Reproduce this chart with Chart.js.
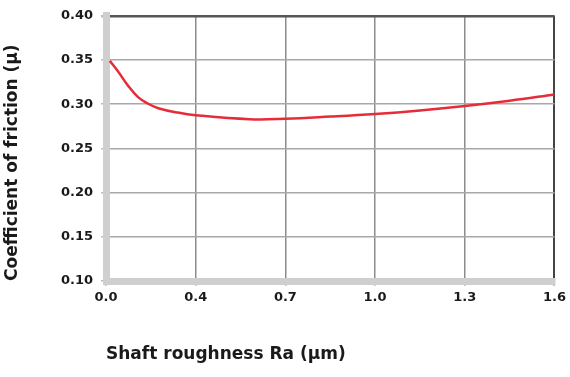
<!DOCTYPE html>
<html>
<head>
<meta charset="utf-8">
<script src="https://cdn.jsdelivr.net/npm/chart.js@4"></script>
<style>
  html, body { margin: 0; padding: 0; background: #fff; }
  #wrap { width: 570px; height: 377px; }
</style>
</head>
<body>
<div id="wrap"><canvas id="frictionChart"></canvas></div>
<script>
// tick labels (equally spaced on the axis even though the values are not)
const xTickLabels = ['0.0', '0.4', '0.7', '1.0', '1.3', '1.6'];
const xTickValues = [0.0, 0.4, 0.7, 1.0, 1.3, 1.6];
const yTickLabels = ['0.10', '0.15', '0.20', '0.25', '0.30', '0.35', '0.40'];

// curve: shaft roughness Ra (µm) vs coefficient of friction
const roughness = [0.017, 0.054, 0.098, 0.143, 0.188, 0.233, 0.32, 0.4, 0.58, 0.7, 0.85, 1.0, 1.15, 1.3, 1.45, 1.6];
const friction  = [0.349, 0.337, 0.321, 0.308, 0.3005, 0.2955, 0.2905, 0.2875, 0.283, 0.2835, 0.286, 0.289, 0.293, 0.298, 0.304, 0.311];

// place a roughness value on the axis (piecewise between the labelled ticks)
function toAxis(v) {
  for (let i = 0; i < xTickValues.length - 1; i++) {
    const a = xTickValues[i], b = xTickValues[i + 1];
    if (v <= b || i === xTickValues.length - 2) return i + (v - a) / (b - a);
  }
  return 0;
}

const points = roughness.map((r, i) => ({ x: toAxis(r), y: friction[i] }));

const tickFont = { family: 'DejaVu Sans', size: 13, weight: 'bold' };
const titleFont = { family: 'DejaVu Sans', size: 17, weight: 'bold' };

const ctx = document.getElementById('frictionChart').getContext('2d');
new Chart(ctx, {
  type: 'line',
  data: {
    datasets: [{
      label: 'Coefficient of friction',
      data: points,
      borderColor: '#e52d3a',
      borderWidth: 2.5,
      pointRadius: 0,
      fill: false,
      tension: 0.4
    }]
  },
  options: {
    responsive: true,
    maintainAspectRatio: false,
    animation: false,
    layout: { padding: { top: 10, right: 15, left: 0, bottom: 0 } },
    plugins: {
      legend: { display: false },
      tooltip: { enabled: false }
    },
    scales: {
      x: {
        type: 'linear',
        min: 0,
        max: xTickLabels.length - 1,
        afterFit: s => { s.height = 96; },
        afterBuildTicks: s => { s.ticks = xTickLabels.map((_, i) => ({ value: i })); },
        ticks: {
          callback: v => xTickLabels[v],
          font: tickFont,
          color: '#1a1a1a',
          padding: 4,
          maxRotation: 0
        },
        grid: {
          color: c => c.index === xTickLabels.length - 1 ? '#444' : '#8c8c8c',
          lineWidth: c => c.index === xTickLabels.length - 1 ? 2 : 1.5,
          tickLength: 5,
          tickColor: '#bbb'
        },
        border: { color: '#cfcfcf', width: 7 },
        title: {
          display: true,
          text: 'Shaft roughness Ra (µm)',
          align: 'start',
          font: titleFont,
          color: '#1a1a1a',
          padding: { top: 4, bottom: 12 }
        }
      },
      y: {
        min: 0.10,
        max: 0.40,
        afterFit: s => { s.width = 106; },
        afterBuildTicks: s => { s.ticks = yTickLabels.map(t => ({ value: parseFloat(t) })); },
        ticks: {
          callback: (v, i) => yTickLabels[i],
          font: tickFont,
          color: '#1a1a1a',
          padding: 8
        },
        grid: {
          color: c => c.index === yTickLabels.length - 1 ? '#555' : '#a8a8a8',
          lineWidth: c => c.index === yTickLabels.length - 1 ? 2.5 : 1.5,
          tickLength: 5,
          tickColor: '#bbb'
        },
        border: { color: '#cfcfcf', width: 7 },
        title: {
          display: true,
          text: 'Coefficient of friction (µ)',
          align: 'start',
          font: titleFont,
          color: '#1a1a1a',
          padding: { top: 2, bottom: 0 }
        }
      }
    }
  }
});
</script>
</body>
</html>
